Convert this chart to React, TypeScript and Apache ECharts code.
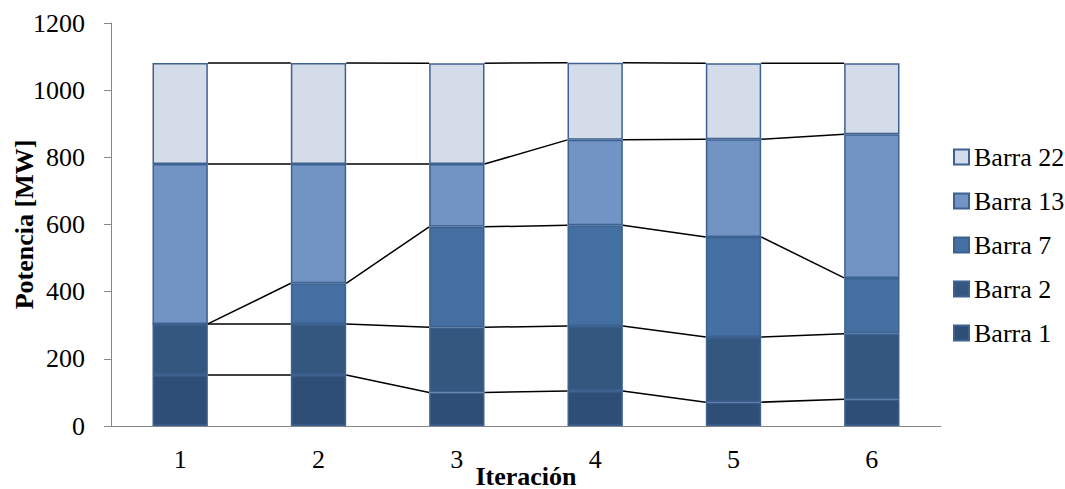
import React, { useEffect, useRef } from "react";
import * as echarts from "echarts";

// Iteraciones del despacho y potencia por barra [MW]
const iteraciones = ["1", "2", "3", "4", "5", "6"];
const barra1 = [152, 152, 100, 104, 71, 80];
const barra2 = [152, 152, 194, 194, 194, 195];
const barra7 = [0, 121, 299, 300, 298, 166];
const barra13 = [476, 355, 187, 254, 291, 428];
const barra22 = [301, 301, 300, 230, 226, 211];

const nombres = ["Barra 1", "Barra 2", "Barra 7", "Barra 13", "Barra 22"];
const colores = ["#2F4E76", "#34577F", "#436FA2", "#7194C5", "#D4DCE9"];
const yTicks = [0, 200, 400, 600, 800, 1000, 1200];

const FONT = "Liberation Serif";
const FS = 26;

export default function App() {
  const ref = useRef<HTMLDivElement>(null);

  useEffect(() => {
    if (!ref.current) return;
    const chart = echarts.init(ref.current, undefined, { renderer: "svg" });
    const valores = [barra1, barra2, barra7, barra13, barra22];

    // cumulative top of each stacked level per category
    const niveles = valores.map((_, k) =>
      iteraciones.map((_, i) => valores.slice(0, k + 1).reduce((s, arr) => s + arr[i], 0))
    );

    const barSeries = valores.map((arr, k) => ({
      name: nombres[k],
      type: "bar",
      stack: "total",
      barWidth: "40%",
      data: arr,
      itemStyle: { color: colores[k], borderColor: "#3D6291", borderWidth: 1.5 },
      emphasis: { disabled: true },
    }));

    // series lines joining the top of each segment to the next column
    const lineas = {
      type: "custom",
      silent: true,
      z: 1,
      data: iteraciones.slice(0, -1).map((_, i) => [i]),
      encode: { x: 0 },
      renderItem: (params: any, api: any) => {
        const i = params.dataIndex;
        const band = api.size([1, 0])[0];
        const half = (band * 0.4) / 2;
        const children = niveles.map((nivel) => {
          const a = api.coord([i, nivel[i]]);
          const b = api.coord([i + 1, nivel[i + 1]]);
          return {
            type: "line",
            shape: { x1: a[0] + half, y1: a[1], x2: b[0] - half, y2: b[1] },
            style: { stroke: "#000000", lineWidth: 1.5 },
          };
        });
        return { type: "group", children };
      },
    };

    chart.setOption({
      animation: false,
      textStyle: { fontFamily: FONT },
      grid: { left: 111, right: 124, top: 23, bottom: 63, outerBoundsMode: "none", containLabel: false },
      legend: {
        orient: "vertical",
        left: 948,
        top: 139,
        itemWidth: 15,
        itemHeight: 15,
        itemGap: 18,
        icon: "rect",
        data: ["Barra 22", "Barra 13", "Barra 7", "Barra 2", "Barra 1"],
        textStyle: { fontFamily: FONT, fontSize: FS, fontWeight: "normal", lineHeight: 26, color: "#000" },
        selectedMode: false,
      },
      xAxis: {
        type: "category",
        data: iteraciones,
        name: "Iteración",
        nameLocation: "middle",
        nameGap: 37,
        nameMoveOverlap: false,
        nameTextStyle: { fontFamily: FONT, fontSize: FS, fontWeight: "bold", color: "#000", lineHeight: 26 },
        axisLine: { lineStyle: { color: "#868686", width: 1 } },
        axisTick: { length: 7, lineStyle: { color: "#868686" } },
        axisLabel: { fontFamily: FONT, fontSize: FS, color: "#000", margin: 20 },
      },
      yAxis: {
        type: "value",
        min: yTicks[0],
        max: yTicks[yTicks.length - 1],
        interval: 200,
        name: "Potencia [MW]",
        nameLocation: "middle",
        nameGap: 74,
        nameMoveOverlap: false,
        nameTextStyle: { fontFamily: FONT, fontSize: FS, fontWeight: "bold", color: "#000" },
        axisLine: { show: true, lineStyle: { color: "#868686", width: 1 } },
        axisTick: { show: true, length: 7, lineStyle: { color: "#868686" } },
        axisLabel: {
          fontFamily: FONT,
          fontSize: FS,
          color: "#000",
          margin: 26,
          formatter: (v: number) => String(v),
        },
        splitLine: { show: false },
      },
      series: [...barSeries, lineas],
    });

    return () => chart.dispose();
  }, []);

  return <div ref={ref} style={{ width: 1065, height: 489, position: "absolute", left: 0, top: 0 }} />;
}
